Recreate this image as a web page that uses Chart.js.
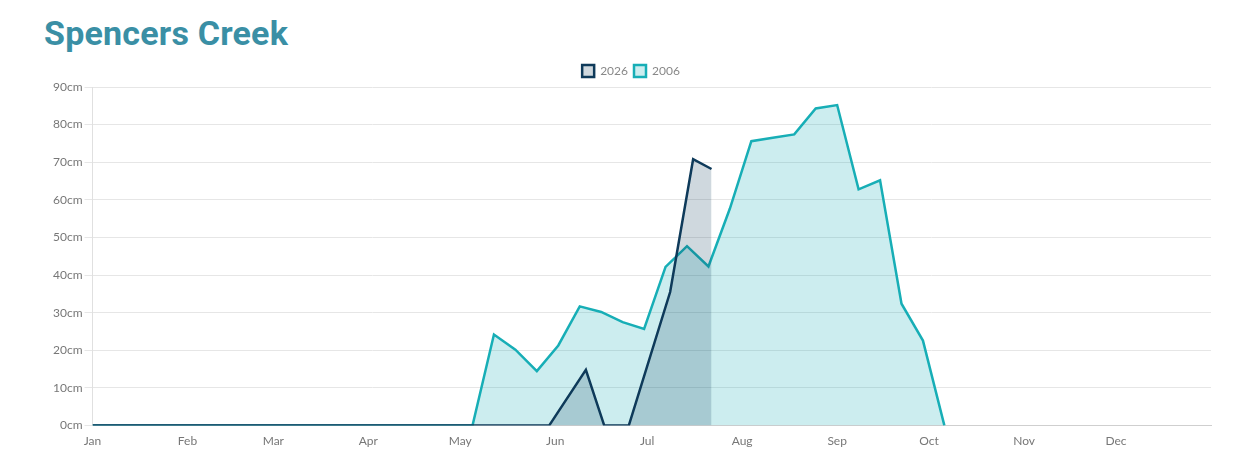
<!DOCTYPE html>
<html>
<head>
<meta charset="utf-8">
<script src="https://cdn.jsdelivr.net/npm/chart.js@4.4.1/dist/chart.umd.min.js"></script>
<style>
  body { margin: 0; background: #fff; width: 1246px; height: 468px; overflow: hidden; position: relative; }
  h1 {
    position: absolute; left: 44px; top: 13px; margin: 0;
    font-family: Roboto, "Open Sans", sans-serif; font-weight: 700; font-size: 34px;
    color: #3a8fa5; letter-spacing: 0.2px;
  }
  #wrap { position: absolute; left: 51px; top: 59px; width: 1169px; height: 389px; }
</style>
</head>
<body>
<h1>Spencers Creek</h1>
<div id="wrap"><canvas id="snowChart"></canvas></div>
<script>
// snow depth, x = day of year (0 = 1 Jan)
const monthNames = ['Jan', 'Feb', 'Mar', 'Apr', 'May', 'Jun', 'Jul', 'Aug', 'Sep', 'Oct', 'Nov', 'Dec'];
const monthStartDays = [0, 31, 59, 90, 120, 151, 181, 212, 243, 273, 304, 334];
const yTicks = [0, 10, 20, 30, 40, 50, 60, 70, 80, 90];

const days2026 = [0, 149, 161, 167, 175, 188.5, 196, 202];
const depth2026 = [0, 0, 14.8, 0, 0, 35.5, 70.8, 68.2];

const days2006 = [0, 124, 131, 138, 145, 152, 159, 166, 173, 180, 187, 194, 201, 208, 215, 222, 229, 236, 243, 250, 257, 264, 271, 278];
const depth2006 = [0, 0, 24.2, 20.2, 14.5, 21.3, 31.7, 30.2, 27.5, 25.7, 42.2, 47.7, 42.3, 57.7, 75.6, 76.5, 77.4, 84.3, 85.2, 62.8, 65.2, 32.4, 22.6, 0];

const toPoints = (days, vals) => days.map((d, i) => ({ x: d, y: vals[i] }));

const fontFam = 'Lato, "Open Sans", sans-serif';

new Chart(document.getElementById('snowChart').getContext('2d'), {
    type: 'line',
    data: {
        datasets: [
            {
                label: '2026',
                data: toPoints(days2026, depth2026),
                borderColor: '#0e3a5a',
                backgroundColor: 'rgba(14,58,90,0.2)',
                borderWidth: 2.5,
                fill: 'origin',
                tension: 0,
                pointRadius: 0
            },
            {
                label: '2006',
                data: toPoints(days2006, depth2006),
                borderColor: '#17aeb6',
                backgroundColor: 'rgba(23,174,182,0.22)',
                borderWidth: 2.5,
                fill: 'origin',
                tension: 0,
                pointRadius: 0
            }
        ]
    },
    options: {
        responsive: true,
        maintainAspectRatio: false,
        animation: false,
        layout: { padding: { left: 0, right: 9, top: 0, bottom: 0 } },
        plugins: {
            legend: {
                display: true,
                labels: {
                    boxWidth: 12,
                    boxHeight: 12,
                    padding: 6,
                    color: '#888',
                    font: { family: fontFam, size: 12 }
                }
            },
            tooltip: { enabled: false }
        },
        scales: {
            x: {
                type: 'linear',
                min: 0,
                max: 365,
                afterBuildTicks: axis => { axis.ticks = monthStartDays.map(v => ({ value: v })); },
                grid: { display: false },
                border: { display: true, color: '#cfcfcf' },
                ticks: {
                    autoSkip: false,
                    maxRotation: 0,
                    color: '#777',
                    padding: 0,
                    font: { family: fontFam, size: 12 },
                    callback: v => monthNames[monthStartDays.indexOf(v)]
                }
            },
            y: {
                min: 0,
                max: 90,
                afterBuildTicks: axis => { axis.ticks = yTicks.map(v => ({ value: v })); },
                grid: { color: '#e6e6e6', tickLength: 8 },
                border: { display: true, color: '#e0e0e0' },
                ticks: {
                    color: '#777',
                    padding: 2,
                    font: { family: fontFam, size: 12 },
                    callback: v => v + 'cm'
                }
            }
        }
    }
});
</script>
</body>
</html>
